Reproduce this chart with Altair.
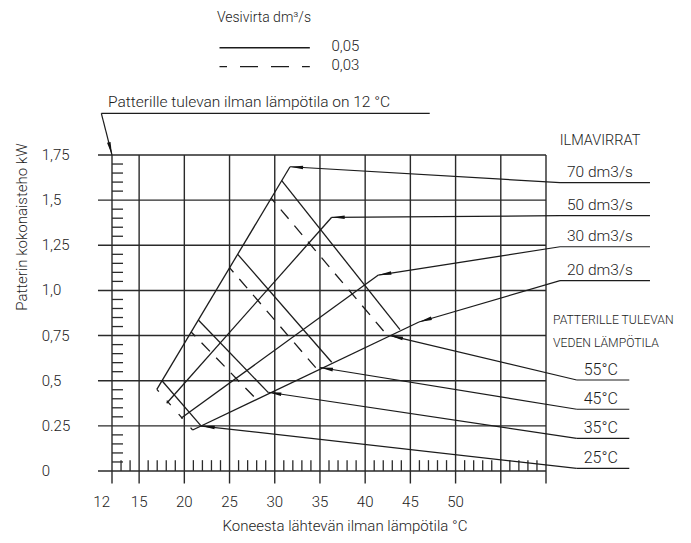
import math
import altair as alt
import pandas as pd

# ---------------- values ----------------
X_TICKS = [12, 15, 20, 25, 30, 35, 40, 45, 50]
Y_TICKS = [1.75, 1.5, 1.25, 1.0, 0.75, 0.5, 0.25, 0.0]
Y_TICK_LABELS = ["1,75", "1,5", "1,25", "1,0", "0,75", "0,5", "0.25", "0"]

# air-flow lines (power kW vs. outgoing air temperature degC)
AIR_FLOWS = ["70 dm3/s", "50 dm3/s", "30 dm3/s", "20 dm3/s"]
AIR_LOW_T = [16.96, 18.05, 19.63, 20.92]
AIR_LOW_P = [0.452, 0.375, 0.292, 0.227]
AIR_HIGH_T = [31.69, 36.30, 41.46, 45.95]
AIR_HIGH_P = [1.685, 1.405, 1.085, 0.825]
AIR_TAG_P = [1.597, 1.414, 1.242, 1.054]

# incoming water temperature lines
WATER_TEMPS = ["55°C", "45°C", "35°C", "25°C"]
# water flow 0,05 dm3/s (solid)
W05_START_T = [30.77, 25.90, 21.55, 17.53]
W05_START_P = [1.608, 1.200, 0.836, 0.500]
W05_END_T = [43.85, 36.30, 29.29, 21.92]
W05_END_P = [0.783, 0.602, 0.434, 0.2455]
# water flow 0,03 dm3/s (dashed)
W03_START_T = [29.60, 25.00, 20.75, 16.96]
W03_START_P = [1.511, 1.126, 0.770, 0.452]
W03_END_T = [42.48, 34.69, 27.90, 20.92]
W03_END_P = [0.749, 0.563, 0.401, 0.227]
# leader arrows of the water temperature labels
WATER_TIP_T = [42.75, 35.00, 29.29, 21.92]
WATER_TIP_P = [0.750, 0.573, 0.436, 0.249]
WATER_TAG_P = [0.504, 0.342, 0.181, 0.015]

WATER_FLOW_LABELS = ["0,05", "0,03"]

# ---------------- layout ----------------
W, H = 434, 316
PX_T = W / 48.0
PX_P = H / 1.75
GRID_LEFT = 10.45
GRID_BOTTOM = -0.069
AIR_TAG_T0, AIR_TAG_T1 = 61.55, 71.50
WAT_TAG_T0, WAT_TAG_T1 = 63.40, 69.21
INK = "#1c1c1c"
GRID = "#2a2a2a"
FONT = "Roboto"

xs = alt.Scale(domain=[12, 60], nice=False, zero=False)
ys = alt.Scale(domain=[0, 1.75], nice=False, zero=False)


def angle(t0, p0, t1, p1):
    a = math.degrees(math.atan2(-(p1 - p0) * PX_P, (t1 - t0) * PX_T))
    return a % 360


def segs(rows, **mk):
    df = pd.DataFrame(rows, columns=["x", "y", "x2", "y2"])
    return alt.Chart(df).mark_rule(**mk).encode(
        x=alt.X("x:Q", scale=xs, axis=None),
        y=alt.Y("y:Q", scale=ys, axis=None),
        x2="x2:Q", y2="y2:Q")


def texts(rows, **mk):
    df = pd.DataFrame(rows, columns=["x", "y", "t"])
    base = dict(font=FONT, fontWeight=300, fontSize=15, color=INK)
    base.update(mk)
    return alt.Chart(df).mark_text(**base).encode(
        x=alt.X("x:Q", scale=xs, axis=None),
        y=alt.Y("y:Q", scale=ys, axis=None),
        text="t:N")


# grid and axes
hgrid = segs([(GRID_LEFT, v, 60, v) for v in Y_TICKS], color=GRID, strokeWidth=1.4)
vgrid = segs([(t, 1.75, t, GRID_BOTTOM) for t in [12, 15, 20, 25, 30, 35, 40, 45, 50, 55, 60]],
             color=GRID, strokeWidth=1.4)
yminor = segs([(12, k * 0.05, 13.22, k * 0.05) for k in range(1, 35) if k % 5],
              color=GRID, strokeWidth=1.3)
xminor = segs([(t, 0, t, 0.06) for t in range(13, 60) if t % 5], color=GRID, strokeWidth=1.3)

# air-flow lines with leaders
air_lines = segs(list(zip(AIR_LOW_T, AIR_LOW_P, AIR_HIGH_T, AIR_HIGH_P)), color=INK, strokeWidth=1.3)
air_lead = segs([(t, p, AIR_TAG_T0, q) for t, p, q in zip(AIR_HIGH_T, AIR_HIGH_P, AIR_TAG_P)],
                color=INK, strokeWidth=1.2)
air_under = segs([(AIR_TAG_T0, q, AIR_TAG_T1, q) for q in AIR_TAG_P], color=INK, strokeWidth=1.2)

# water temperature lines
w05 = segs(list(zip(W05_START_T, W05_START_P, W05_END_T, W05_END_P)), color=INK, strokeWidth=1.3)
w03_rows = list(zip(W03_START_T, W03_START_P, W03_END_T, W03_END_P))
w03 = segs(w03_rows[:3], color=INK, strokeWidth=1.3, strokeDash=[12, 9], strokeDashOffset=6)
w03_low = segs(w03_rows[3:], color=INK, strokeWidth=1.3, strokeDash=[6, 12], strokeDashOffset=3)
wat_lead = segs([(t, p, WAT_TAG_T0, q) for t, p, q in zip(WATER_TIP_T, WATER_TIP_P, WATER_TAG_P)],
                color=INK, strokeWidth=1.2)
wat_under = segs([(WAT_TAG_T0, q, WAT_TAG_T1, q) for q in WATER_TAG_P], color=INK, strokeWidth=1.2)

# top annotation leader
top_note = segs([(10.82, 1.981, 47.14, 1.981), (10.82, 1.981, 12, 1.75)], color=INK, strokeWidth=1.2)

# legend lines
leg_solid = segs([(23.89, 2.344, 33.88, 2.344)], color=INK, strokeWidth=1.3)
leg_dash = segs([(23.89, 2.239, 33.88, 2.239)], color=INK, strokeWidth=1.3,
                strokeDash=[18, 13], strokeDashOffset=10.5)

# arrow heads
arrows = []
for t, p, q in zip(AIR_HIGH_T, AIR_HIGH_P, AIR_TAG_P):
    arrows.append((t, p, angle(t, p, AIR_TAG_T0, q)))
for t, p, q in zip(WATER_TIP_T, WATER_TIP_P, WATER_TAG_P):
    arrows.append((t, p, angle(t, p, WAT_TAG_T0, q)))
arrows.append((12, 1.75, angle(12, 1.75, 10.82, 1.981)))
arr_df = pd.DataFrame(arrows, columns=["x", "y", "a"])
arrow_layer = alt.Chart(arr_df).mark_point(
    shape="M0,0L2,-0.28L2,0.28Z", filled=True, size=169, color="#111", opacity=1
).encode(
    x=alt.X("x:Q", scale=xs, axis=None),
    y=alt.Y("y:Q", scale=ys, axis=None),
    angle=alt.Angle("a:Q", scale=None))

# texts
ylab = texts([(4.225, v, s) for v, s in zip(Y_TICKS, Y_TICK_LABELS)], align="left", baseline="middle")
xlab = texts([(t, -0.172, str(t)) for t in X_TICKS[1:]], align="center", baseline="middle")
xlab12 = texts([(12, -0.172, str(X_TICKS[0]))], align="right", baseline="middle", dx=-2)
xtitle = texts([(37.77, -0.305, "Koneesta lähtevän ilman lämpötila °C")], align="center",
               baseline="middle", fontSize=15)
ytitle = texts([(2.05, 1.351, "Patterin kokonaisteho  kW")], align="center", baseline="middle",
               angle=270, fontSize=15)
topnote = texts([(11.56, 2.041, "Patterille tulevan ilman lämpötila on 12 °C")], align="left",
                baseline="middle", fontSize=15.5)
legtitle = texts([(28.81, 2.506, "Vesivirta dm³/s")], align="center", baseline="middle", fontSize=14)
leglab = texts([(36.27, 2.356, WATER_FLOW_LABELS[0]), (36.27, 2.248, WATER_FLOW_LABELS[1])],
               align="left", baseline="middle", fontSize=15)

ilma = texts([(65.97, 1.805, "ILMAVIRRAT")], align="center", baseline="alphabetic", fontSize=14.5)
airlab = texts([(65.97, q, s) for q, s in zip(AIR_TAG_P, AIR_FLOWS)], align="center",
               baseline="alphabetic", dy=-6, fontSize=15.5)
watlab = texts([(66.06, q, s) for q, s in zip(WATER_TAG_P, WATER_TEMPS)], align="center",
               baseline="alphabetic", dy=-5, fontSize=16)
pat = texts([(60.77, 0.836, "PATTERILLE TULEVAN"), (60.77, 0.709, "VEDEN LÄMPÖTILA")],
            align="left", baseline="middle", fontSize=12.2)

chart = alt.layer(
    hgrid, vgrid, yminor, xminor,
    air_lines, air_lead, air_under,
    w05, w03, w03_low, wat_lead, wat_under,
    top_note, leg_solid, leg_dash, arrow_layer,
    ylab, xlab, xlab12, xtitle, ytitle, topnote, legtitle, leglab,
    ilma, airlab, watlab, pat,
).properties(
    width=W, height=H,
    autosize=alt.AutoSizeParams(type="none"),
    padding={"left": 104, "top": 147, "right": 137, "bottom": 64},
    background="white",
).configure_view(stroke=None)

chart.save("out.html", embed_options={"renderer": "svg", "actions": False})
